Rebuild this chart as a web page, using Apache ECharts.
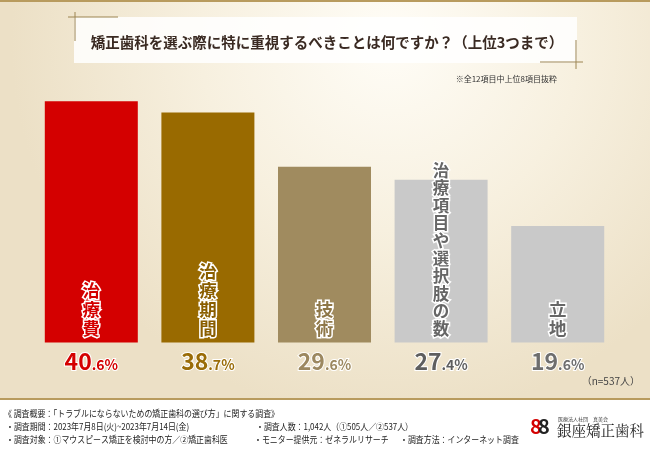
<!DOCTYPE html>
<html>
<head>
<meta charset="utf-8">
<script src="https://cdn.jsdelivr.net/npm/echarts@6/dist/echarts.min.js"></script>
<style>
  html, body { margin: 0; padding: 0; }
  #main { width: 650px; height: 450px; }
</style>
</head>
<body>
<div id="main"></div>
<script>
// 棒グラフ：矯正歯科を選ぶ際に重視すること
const categories = ['治療費', '治療期間', '技術', '治療項目や選択肢の数', '立地'];
const values = [40.6, 38.7, 29.6, 27.4, 19.6];
const barColors = ['#D40000', '#996A00', '#A08B5F', '#C9C9C9', '#C9C9C9'];
const nameColors = ['#D40000', '#8A5E00', '#8E7748', '#666666', '#666666'];
const valueColors = ['#D40000', '#9A6C08', '#9C8860', '#5E5E5E', '#6E6E6E'];

const FONT = '"Noto Sans CJK JP", "Noto Sans", sans-serif';

let myChart = echarts.init(document.getElementById('main'));

// 下の数字用 rich スタイル
let rich = {};
values.forEach(function (v, i) {
  rich['b' + i] = { fontSize: 23, fontWeight: 'bold', color: valueColors[i], fontFamily: FONT,
    textBorderColor: '#fff', textBorderWidth: 2, lineHeight: 24, verticalAlign: 'bottom' };
  rich['s' + i] = { fontSize: 14, fontWeight: 'bold', color: valueColors[i], fontFamily: FONT,
    textBorderColor: '#fff', textBorderWidth: 2, lineHeight: 24, verticalAlign: 'bottom', padding: [0, 0, 1, 0] };
});

let footStyle = { fontSize: 9, fill: '#222', fontFamily: FONT, textVerticalAlign: 'middle' };
function foot(text, x, y) {
  return { type: 'text', x: x, y: y, scaleX: 0.88, style: Object.assign({ text: text }, footStyle) };
}

let option = {
  backgroundColor: '#fff',
  animation: false,
  grid: { left: 33, right: 34, top: 45.5, bottom: 107.5 },
  xAxis: {
    type: 'category',
    data: categories,
    axisLine: { show: false },
    axisTick: { show: false },
    axisLabel: {
      margin: 6,
      formatter: function (val, i) {
        let parts = values[i].toFixed(1).split('.');
        return '{b' + i + '|' + parts[0] + '}{s' + i + '|.' + parts[1] + '%}';
      },
      rich: rich
    }
  },
  yAxis: {
    type: 'value',
    min: 0,
    max: 50,
    show: false,
    splitLine: { show: false }
  },
  graphic: [
    // 背景
    { type: 'rect', z: -10, shape: { x: 0, y: 0, width: 650, height: 399 },
      style: { fill: new echarts.graphic.RadialGradient(0.6, 0.1, 0.95, [
        { offset: 0, color: '#FFFDF7' },
        { offset: 0.5, color: '#F7F0DF' },
        { offset: 1, color: '#ECE0C6' }
      ]) } },
    { type: 'rect', z: -9, shape: { x: 0, y: 0, width: 650, height: 2 }, style: { fill: '#B89B5E' } },
    { type: 'rect', z: -9, shape: { x: 0, y: 398, width: 650, height: 2 }, style: { fill: '#B89B5E' } },
    // タイトル枠
    { type: 'rect', z: -8, shape: { x: 74, y: 17, width: 503, height: 46 },
      style: { fill: 'rgba(255,255,255,0.85)' } },
    { type: 'line', shape: { x1: 68, y1: 17, x2: 118, y2: 17 }, style: { stroke: '#9C8450', lineWidth: 1 } },
    { type: 'line', shape: { x1: 75, y1: 12, x2: 75, y2: 41 }, style: { stroke: '#9C8450', lineWidth: 1 } },
    { type: 'line', shape: { x1: 540, y1: 62, x2: 583, y2: 62 }, style: { stroke: '#9C8450', lineWidth: 1 } },
    { type: 'line', shape: { x1: 576, y1: 40, x2: 576, y2: 69 }, style: { stroke: '#9C8450', lineWidth: 1 } },
    { type: 'text', x: 327, y: 42, style: { text: '矯正歯科を選ぶ際に特に重視するべきことは何ですか？（上位3つまで）',
      fontSize: 14.5, fontWeight: 'bold', fill: '#3A2A22', fontFamily: FONT, textAlign: 'center', textVerticalAlign: 'middle' } },
    { type: 'text', x: 557, y: 79, style: { text: '※全12項目中上位8項目抜粋',
      fontSize: 8, fill: '#333', fontFamily: FONT, textAlign: 'right', textVerticalAlign: 'middle' } },
    { type: 'text', x: 640, y: 381, style: { text: '（n=537人）',
      fontSize: 10, fill: '#444', fontFamily: FONT, textAlign: 'right', textVerticalAlign: 'middle' } },
    // 調査概要
    foot('《 調査概要：「トラブルにならないための矯正歯科の選び方」に関する調査》', 4, 414),
    foot('・調査期間：2023年7月8日(火)~2023年7月14日(金)', 6, 427),
    foot('・調査人数：1,042人（①505人／②537人）', 256, 427),
    foot('・調査対象：①マウスピース矯正を検討中の方／②矯正歯科医', 6, 440),
    foot('・モニター提供元：ゼネラルリサーチ', 254, 440),
    foot('・調査方法：インターネット調査', 400, 440),
    // ロゴ
    { type: 'text', x: 530, y: 426, style: { text: '8', fontSize: 20, fontWeight: 'bold', fill: '#D40000',
      fontFamily: FONT, textVerticalAlign: 'middle' } },
    { type: 'text', x: 538, y: 426, style: { text: '8', fontSize: 20, fontWeight: 'bold', fill: '#222',
      fontFamily: FONT, textVerticalAlign: 'middle' } },
    { type: 'text', x: 558, y: 419, style: { text: '医療法人社団　真美会', fontSize: 5, fill: '#444',
      fontFamily: FONT, textVerticalAlign: 'middle' } },
    { type: 'text', x: 557, y: 430, style: { text: '銀座矯正歯科', fontSize: 14.5, fill: '#222',
      fontFamily: '"Noto Serif CJK JP", "Noto Sans CJK JP", serif', textVerticalAlign: 'middle' } }
  ],
  series: [
    {
      type: 'bar',
      barWidth: 93,
      data: values.map(function (v, i) {
        let long = categories[i].length > 5;
        return {
          value: v,
          itemStyle: { color: barColors[i] },
          label: {
            color: nameColors[i],
            fontSize: long ? 16.5 : 17.5,
            lineHeight: long ? 17.6 : 19
          }
        };
      }),
      label: {
        show: true,
        position: 'insideBottom',
        distance: 5,
        fontFamily: FONT,
        fontWeight: 'bold',
        textBorderColor: '#fff',
        textBorderWidth: 3,
        formatter: function (p) {
          return categories[p.dataIndex].split('').join('\n');
        }
      }
    }
  ]
};

//把配置给实例对象
myChart.setOption(option);
</script>
</body>
</html>
